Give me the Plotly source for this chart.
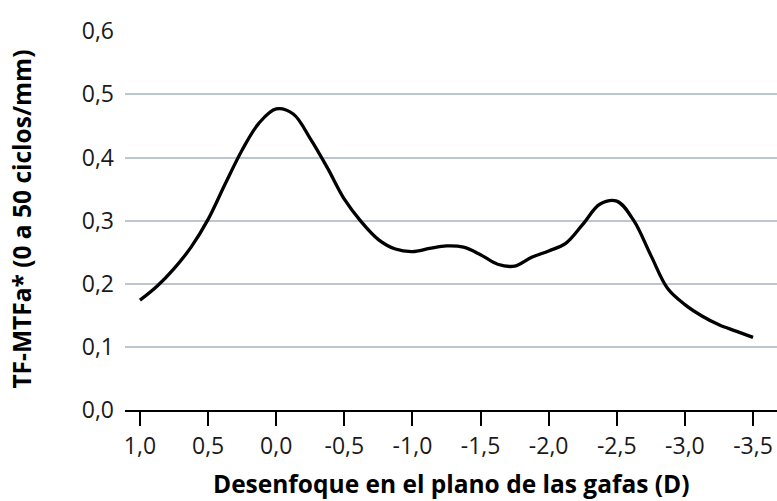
import plotly.graph_objects as go

# Data (defocus in spectacle plane, D) and TF-MTFa values
defocus = [1.0, 0.875, 0.75, 0.625, 0.5, 0.375, 0.25, 0.125, 0.0,
           -0.125, -0.25, -0.375, -0.5, -0.625, -0.75, -0.875, -1.0,
           -1.125, -1.25, -1.375, -1.5, -1.625, -1.75, -1.875, -2.0,
           -2.125, -2.25, -2.375, -2.5, -2.625, -2.75, -2.875, -3.0,
           -3.125, -3.25, -3.375, -3.5]
tf_mtfa = [0.174, 0.196, 0.224, 0.258, 0.302, 0.358, 0.412, 0.455, 0.477,
           0.469, 0.430, 0.384, 0.334, 0.298, 0.270, 0.255, 0.251,
           0.256, 0.260, 0.258, 0.246, 0.231, 0.228, 0.242, 0.252,
           0.264, 0.294, 0.326, 0.331, 0.300, 0.245, 0.192, 0.167,
           0.149, 0.135, 0.125, 0.115]

x_tick_vals = [1.0, 0.5, 0.0, -0.5, -1.0, -1.5, -2.0, -2.5, -3.0, -3.5]
x_tick_text = ["1,0", "0,5", "0,0", "-0,5", "-1,0", "-1,5", "-2,0", "-2,5", "-3,0", "-3,5"]
y_tick_vals = [0.0, 0.1, 0.2, 0.3, 0.4, 0.5, 0.6]
y_tick_text = ["0,0", "0,1", "0,2", "0,3", "0,4", "0,5", "0,6"]

x_title = "Desenfoque en el plano de las gafas (D)"
y_title = "TF-MTFa* (0 a 50 ciclos/mm)"

FONT = "Open Sans"

fig = go.Figure()
fig.add_trace(go.Scatter(
    x=defocus, y=tf_mtfa, mode="lines",
    line=dict(color="black", width=3.3, shape="spline", smoothing=1.0),
    hoverinfo="skip", showlegend=False,
))

fig.update_layout(
    width=777, height=501,
    margin=dict(l=125, r=0, t=31, b=91),
    paper_bgcolor="white", plot_bgcolor="white",
    font=dict(family=FONT, color="#1a1a1a", size=23),
    showlegend=False,
    annotations=[
        dict(text="<b>" + x_title + "</b>", xref="paper", yref="paper",
             x=0.5, y=-0.193, xanchor="center", yanchor="middle",
             showarrow=False, font=dict(family=FONT, size=24.5, color="black")),
        dict(text="<b>" + y_title + "</b>", xref="paper", yref="paper",
             x=-0.158, y=0.505, xanchor="center", yanchor="middle",
             textangle=-90, showarrow=False,
             font=dict(family=FONT, size=24.5, color="black")),
    ],
)

fig.update_xaxes(
    range=[1.11, -3.676], tickmode="array", tickvals=x_tick_vals, ticktext=x_tick_text,
    showgrid=False, zeroline=False, showline=True, linecolor="black", linewidth=2,
    ticks="outside", ticklen=14, tickwidth=1.8, tickcolor="black",
    tickfont=dict(family=FONT, size=23, color="#1a1a1a"), automargin=False,
)
fig.update_yaxes(
    range=[0, 0.6005], tickmode="array", tickvals=y_tick_vals, ticktext=y_tick_text,
    showgrid=True, gridcolor="#bcc6d0", gridwidth=1.6, zeroline=False, showline=False,
    ticks="", ticklabelstandoff=10,
    tickfont=dict(family=FONT, size=23, color="#1a1a1a"), automargin=False,
)

fig.write_html(
    "out.html",
    config={"displayModeBar": False, "responsive": False},
    post_script="document.body.style.margin='0';document.body.style.padding='0';document.body.style.overflow='hidden';",
)
